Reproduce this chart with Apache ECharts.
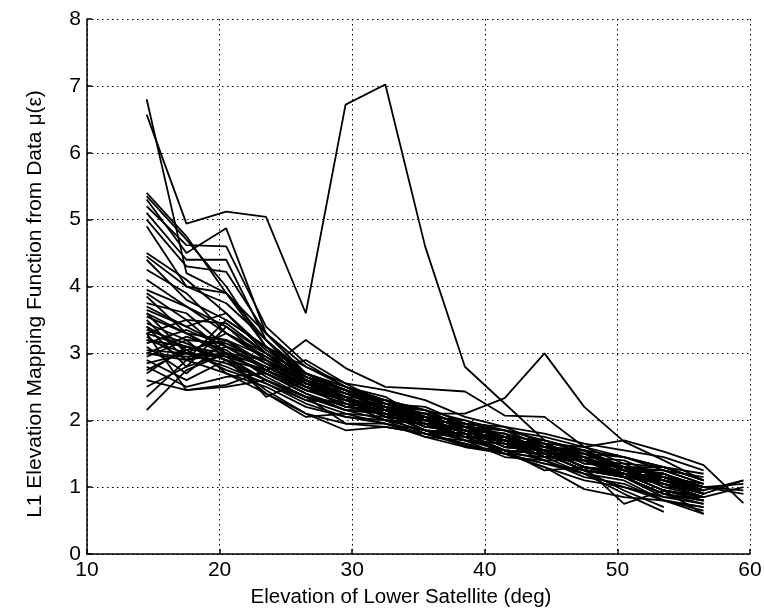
<!DOCTYPE html>
<html>
<head>
<meta charset="utf-8">
<script src="https://cdn.jsdelivr.net/npm/echarts@6/dist/echarts.min.js"></script>
<style>html,body{margin:0;padding:0;background:#fff;overflow:hidden}#c{width:764px;height:612px}</style>
</head>
<body>
<div id="c"></div>
<script>
// Elevation of lower satellite (deg) sample points
const elevations = [14.5,17.5,20.5,23.5,26.5,29.5,32.5,35.5,38.5,41.5,44.5,47.5,50.5,53.5,56.5,59.5];
const xTicks = [10,20,30,40,50,60];
const yTicks = [0,1,2,3,4,5,6,7,8];
const xTitle = 'Elevation of Lower Satellite (deg)';
const yTitle = 'L1 Elevation Mapping Function from Data μ(ε)';

// mapping function curves (one per pass)
const runA = [6.57,4.94,5.12,5.04,3.6,6.72,7.02,4.6,2.8,2.25,1.7,1.55,1.3,1.2,1.0,null];
const runB = [6.8,4.2,3.9,3.3,2.8,2.5,2.3,2.15,1.9,1.8,1.65,1.45,1.2,1.15,0.95,null];
const runC = [3.3,3.1,3.0,2.8,2.5,2.3,2.2,2.1,2.1,2.33,3.0,2.2,1.68,1.4,1.1,null];
const runD = [5.3,4.5,4.87,3.3,2.7,2.45,2.15,2.05,1.8,1.75,1.5,1.45,1.15,1.2,0.9,null];
const runE = [5.2,4.62,4.6,3.4,2.85,2.5,2.35,2.0,1.95,1.7,1.65,1.35,1.3,1.0,0.85,null];
const runF = [5.1,4.4,4.4,3.2,2.6,2.3,2.2,1.95,1.85,1.65,1.55,1.3,1.2,0.95,0.8,null];
const runG = [5.0,4.3,4.22,3.3,2.7,2.5,2.25,2.15,1.9,1.85,1.6,1.55,1.25,1.2,0.95,null];
const runH = [5.35,4.7,4.0,3.1,2.6,2.25,2.15,1.9,1.85,1.6,1.55,1.3,1.15,0.9,0.75,null];
const runI = [4.9,4.0,3.9,3.2,2.65,2.45,2.15,2.1,1.85,1.8,1.5,1.45,1.15,1.05,0.85,null];
const runJ = [4.5,4.1,3.6,3.0,2.6,2.3,2.2,1.9,1.9,1.65,1.55,1.3,1.2,0.95,0.8,null];
const runK = [4.4,3.8,3.5,3.1,2.7,2.4,2.3,2.0,1.95,1.7,1.65,1.4,1.35,1.1,1.0,1.05];
const runL = [4.25,3.9,3.3,2.9,2.5,2.35,2.05,1.95,1.75,1.7,1.45,1.4,1.15,1.1,0.9,null];
const runM = [3.9,3.5,3.45,3.0,2.55,2.3,2.2,1.95,1.9,1.65,1.6,1.35,1.3,1.05,0.95,null];
const runN = [3.85,3.3,3.2,2.85,2.6,2.35,2.1,2.0,1.75,1.7,1.45,1.45,1.15,1.15,0.9,1.1];
const runO = [3.75,3.6,3.1,2.9,2.5,2.2,2.1,1.85,1.8,1.55,1.5,1.25,1.15,0.9,0.8,null];
const runP = [3.6,3.0,3.3,3.0,2.7,2.5,2.2,2.15,1.9,1.85,1.6,1.55,1.25,1.25,1.05,null];
const runQ = [3.55,3.3,2.95,2.75,2.45,2.25,2.15,1.9,1.85,1.6,1.55,1.3,1.2,0.95,0.85,null];
const runR = [3.5,2.9,3.5,3.1,2.8,2.55,2.25,2.2,1.95,1.9,1.65,1.6,1.35,1.3,1.1,null];
const runS = [3.45,3.2,3.15,2.85,2.5,2.2,2.15,1.85,1.8,1.55,1.5,1.25,1.15,0.9,0.8,null];
const runT = [3.4,2.8,3.4,2.9,2.55,2.4,2.15,2.05,1.8,1.75,1.5,1.45,1.15,1.1,0.9,null];
const runU = [3.3,3.5,3.0,2.7,2.4,2.15,2.1,1.85,1.8,1.55,1.5,1.25,1.2,0.95,0.85,null];
const runV = [3.25,2.9,3.0,2.9,2.6,2.45,2.15,2.1,1.85,1.8,1.55,1.55,1.3,1.25,1.05,null];
const runW = [3.2,3.1,2.9,2.6,2.35,2.15,2.1,1.85,1.75,1.55,1.5,1.25,1.15,0.85,0.75,null];
const runX = [3.15,3.35,3.1,2.8,2.5,2.35,2.05,2.0,1.75,1.75,1.5,1.5,1.25,1.2,1.0,0.95];
const runY = [3.1,2.7,3.2,2.95,2.65,2.35,2.3,2.05,2.0,1.75,1.7,1.5,1.45,1.25,1.15,null];
const runZ = [3.05,3.0,2.8,2.55,2.3,2.1,2.05,1.8,1.75,1.5,1.45,1.2,1.1,0.8,0.7,null];
const runAA = [3.0,2.95,3.0,2.7,2.45,2.3,2.05,2.0,1.75,1.7,1.45,1.45,1.15,1.1,0.9,null];
const runAB = [2.95,3.2,2.7,2.5,2.2,2.05,2.0,1.75,1.7,1.45,1.4,1.15,1.05,0.8,0.65,null];
const runAC = [2.9,2.6,2.9,2.75,2.5,2.35,2.1,2.05,1.8,1.75,1.55,1.55,1.3,1.3,1.1,null];
const runAD = [2.85,3.0,2.95,2.6,2.3,2.25,2.0,1.95,1.7,1.65,1.4,1.4,1.15,1.1,0.9,null];
const runAE = [2.8,2.5,2.65,2.7,2.4,2.2,2.15,1.9,1.85,1.6,1.55,1.3,1.25,1.0,0.95,1.1];
const runAF = [2.7,3.1,2.9,2.45,2.1,1.95,1.9,1.8,1.65,1.5,1.35,1.25,0.95,0.7,null,null];
const runAG = [2.6,2.45,2.5,2.6,2.35,2.25,2.0,1.95,1.7,1.65,1.45,1.45,1.2,1.15,0.95,null];
const runAH = [2.5,2.8,3.0,2.7,2.4,2.15,2.15,1.9,1.85,1.6,1.55,1.3,1.2,0.95,0.85,null];
const runAI = [2.35,2.9,3.1,2.75,2.5,2.35,2.1,2.05,1.8,1.75,1.5,1.5,1.25,1.2,1.0,null];
const runAJ = [2.15,2.75,3.0,2.8,2.55,2.3,2.25,2.0,1.95,1.7,1.65,1.45,1.4,1.15,1.05,null];
const runAK = [3.3,2.45,2.53,2.75,2.45,2.3,2.05,2.0,1.75,1.7,1.45,1.4,1.15,1.05,0.85,null];
const runAL = [3.7,3.4,3.1,2.75,3.2,2.78,2.5,2.47,2.43,2.07,2.05,1.6,1.45,1.3,1.1,null];
const runAM = [3.0,2.9,2.7,2.4,2.1,1.85,1.9,1.8,1.65,1.5,1.35,1.2,1.0,0.8,0.6,null];
const runAN = [3.35,3.15,2.9,2.4,2.05,2.1,1.95,1.8,1.62,1.5,1.3,0.97,0.85,0.8,0.7,null];
const runAO = [3.6,3.3,3.0,2.35,2.6,2.4,2.2,2.0,1.85,1.7,1.55,1.4,1.3,1.15,1.0,null];
const runAP = [4.1,3.7,3.4,3.0,2.6,2.4,2.25,2.1,1.95,1.85,1.75,1.6,1.7,1.53,1.33,0.76];
const runAQ = [3.2,3.0,2.85,2.6,2.35,2.15,2.0,1.85,1.7,1.55,1.4,1.2,0.9,0.63,null,null];
const runAR = [5.4,4.75,3.9,3.1,2.6,2.35,2.15,2.0,1.85,1.7,1.55,1.4,1.2,1.05,0.9,null];
const runAS = [4.45,4.0,3.75,3.2,2.7,2.45,2.25,2.05,1.9,1.75,1.6,1.45,1.25,1.1,0.95,null];
const runAT = [3.65,3.4,3.6,3.05,2.65,2.45,2.3,2.15,2.0,1.85,1.7,1.55,1.45,1.3,1.2,null];
const runAU = [3.95,3.7,3.3,2.95,2.55,2.3,2.2,2.05,1.9,1.75,1.6,1.5,1.3,1.15,1.0,0.9];
const runAV = [3.0,3.25,3.05,2.65,2.35,1.95,1.95,1.85,1.6,1.55,1.25,1.3,0.75,0.95,0.6,null];
const runAW = [3.4,3.05,3.2,2.75,2.9,2.55,2.45,2.3,2.05,1.9,1.8,1.65,1.55,1.45,1.25,null];
const runAX = [2.75,3.05,2.75,2.55,2.25,2.05,1.95,1.75,1.6,1.5,1.3,1.1,1.0,0.85,0.85,1.0];

const runs = [runA,runB,runC,runD,runE,runF,runG,runH,runI,runJ,runK,runL,runM,runN,runO,runP,runQ,runR,runS,runT,runU,runV,runW,runX,runY,runZ,
  runAA,runAB,runAC,runAD,runAE,runAF,runAG,runAH,runAI,runAJ,runAK,runAL,runAM,runAN,runAO,runAP,runAQ,runAR,runAS,runAT,runAU,runAV,runAW,runAX];

const FONT = 'Liberation Sans, Arial, Helvetica, sans-serif';
const chart = echarts.init(document.getElementById('c'));
chart.setOption({
  animation: false,
  backgroundColor: '#fff',
  grid: {left: 87, right: 14, top: 19, bottom: 58, containLabel: false, outerBoundsMode: 'none'},
  xAxis: {
    type: 'value', min: 10, max: 60, interval: 10,
    axisLine: {lineStyle: {color: '#000', width: 1.5}},
    axisTick: {inside: true, length: 5, lineStyle: {color: '#000', width: 1.5}},
    axisLabel: {fontFamily: FONT, fontSize: 21, color: '#000', margin: 6},
    splitLine: {show: true, lineStyle: {color: '#000', type: [1.5, 3.5], width: 1}}
  },
  yAxis: {
    type: 'value', min: 0, max: 8, interval: 1,
    axisLine: {show: true, lineStyle: {color: '#000', width: 1.5}},
    axisTick: {show: true, inside: true, length: 5, lineStyle: {color: '#000', width: 1.5}},
    axisLabel: {fontFamily: FONT, fontSize: 21, color: '#000', margin: 6},
    splitLine: {show: true, lineStyle: {color: '#000', type: [1.5, 3.5], width: 1}}
  },
  graphic: [
    {type: 'text', x: 401, y: 597, silent: true,
     style: {text: xTitle, font: '20.5px ' + FONT, fill: '#000', align: 'center', verticalAlign: 'middle'}},
    {type: 'text', x: 35, y: 304, rotation: Math.PI / 2, silent: true,
     style: {text: yTitle, font: '21px ' + FONT, fill: '#000', align: 'center', verticalAlign: 'middle'}}
  ],
  series: runs.map(r => ({
    type: 'line',
    data: elevations.map((x, i) => [x, r[i]]),
    showSymbol: false,
    connectNulls: false,
    lineStyle: {color: '#000', width: 1.8},
    silent: true
  }))
});
</script>
</body>
</html>
